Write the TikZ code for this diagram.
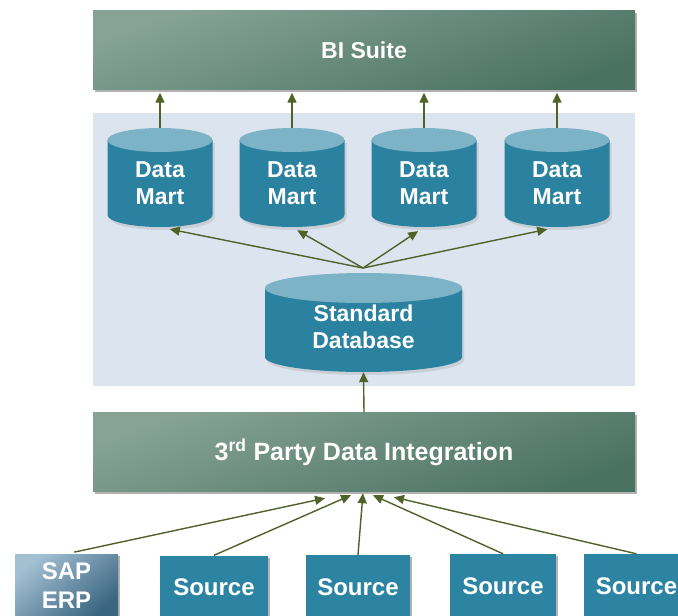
\documentclass[tikz,border=0pt]{standalone}
\usepackage{fontspec}
\setmainfont{Liberation Sans}
\usetikzlibrary{arrows.meta,shadows,calc}
\definecolor{boxA}{HTML}{86A396}
\definecolor{boxB}{HTML}{4A7262}
\definecolor{panelc}{HTML}{DCE5EF}
\definecolor{cylbody}{HTML}{2B82A0}
\definecolor{cyltop}{HTML}{7DB3C7}
\definecolor{srcfill}{HTML}{2C84A2}
\definecolor{sapA}{HTML}{A3C0D3}
\definecolor{sapB}{HTML}{3A6580}
\definecolor{arr}{HTML}{4F6228}
\newcommand\mycyl[5]{% cx, top, rx, ry, bottom
  \fill[black!35,opacity=.35] ({#1-#3+2},{#2+#4+3}) -- ({#1-#3+2},{#5-#4+3}) arc[start angle=180,end angle=360,x radius=#3pt,y radius=#4pt] -- ({#1+#3+2},{#2+#4+3}) -- cycle;
  \fill[cylbody] ({#1-#3},{#2+#4}) -- ({#1-#3},{#5-#4}) arc[start angle=180,end angle=360,x radius=#3pt,y radius=#4pt] -- ({#1+#3},{#2+#4}) -- cycle;
  \fill[cyltop] (#1,{#2+#4}) ellipse[x radius=#3pt, y radius=#4pt];
}
\begin{document}
\begin{tikzpicture}[x=1pt,y=-1pt,
  txt/.style={text=white,font=\bfseries\fontsize{23}{27}\selectfont,align=center,inner sep=0pt},
  shad/.style={drop shadow={shadow xshift=2pt,shadow yshift=-2pt,opacity=.3,fill=black}},
  bigbox/.style={txt,shad,top color=boxA,bottom color=boxB,shading angle=20,minimum width=542pt,minimum height=79pt},
  srcbox/.style={txt,shad,fill=srcfill,minimum height=64pt,font=\bfseries\fontsize{24}{27}\selectfont},
  sapbox/.style={txt,shad,top color=sapA,bottom color=sapB,shading angle=40,minimum width=103pt,minimum height=64pt,font=\bfseries\fontsize{24}{29}\selectfont},
  cyltext/.style={txt,minimum height=87pt,minimum width=100pt},
  link/.style={draw=arr,line width=1.4pt,-{Triangle[length=10pt,width=9pt]}},
]
\useasboundingbox (0,0) rectangle (678,616);
\clip (0,0) rectangle (678,616);
\fill[white] (0,0) rectangle (678,616);
% background panel
\fill[panelc] (93,113) rectangle (635,386);
% boxes
\node[bigbox] (bi) at (364,50) {BI Suite};
\node[bigbox,font=\bfseries\fontsize{25}{27}\selectfont] (int) at (364,452) {3\textsuperscript{rd} Party Data Integration};
% cylinders
\mycyl{160}{128}{52.5}{12}{227}
\mycyl{292}{128}{52.5}{12}{227}
\mycyl{424}{128}{52.5}{12}{227}
\mycyl{557}{128}{52.5}{12}{227}
\mycyl{363.5}{273}{98.5}{15}{372}
\node[cyltext] (dm1) at (160,183.5) {Data\\Mart};
\node[cyltext] (dm2) at (292,183.5) {Data\\Mart};
\node[cyltext] (dm3) at (424,183.5) {Data\\Mart};
\node[cyltext] (dm4) at (557,183.5) {Data\\Mart};
\node[txt,minimum height=90pt,minimum width=190pt] (db) at (363.5,327) {Standard\\Database};
\coordinate (fan) at (363,268);
% sources
\node[sapbox] (sap) at (66.5,586) {SAP\\ERP};
\node[srcbox,minimum width=108pt] (s1) at (214,587.5) {Source};
\node[srcbox,minimum width=104pt] (s2) at (358,587) {Source};
\node[srcbox,minimum width=106pt] (s3) at (503,586) {Source};
\node[srcbox,minimum width=105pt] (s4) at (636.5,586) {Source};
% arrows up to BI Suite
\foreach \m in {dm1,dm2,dm3,dm4}
  \draw[link,shorten <=12pt,shorten >=3pt] (\m.north) -- (\m.north |- bi.south);
% fan arrows
\draw[link,shorten >=10pt] (fan) -- (dm1.south);
\draw[link,shorten >=6pt] (fan) -- (dm2.south);
\draw[link,shorten >=7pt] (fan) -- (dm3.south);
\draw[link,shorten >=10pt] (fan) -- (dm4.south);
% integration to database
\draw[link] (int.north) -- (db.south);
% sources to integration
\coordinate (i1) at ($(int.south)+(-39,6.5)$);
\coordinate (i2) at ($(int.south)+(-13,3.5)$);
\coordinate (i3) at ($(int.south)+(-1,1.5)$);
\coordinate (i4) at ($(int.south)+(9,3.5)$);
\coordinate (i5) at ($(int.south)+(30,5.5)$);
\draw[link,shorten <=8pt] (sap.north) -- (i1);
\draw[link] (s1.north) -- (i2);
\draw[link] (s2.north) -- (i3);
\draw[link] (s3.north) -- (i4);
\draw[link] (s4.north) -- (i5);
\end{tikzpicture}
\end{document}
